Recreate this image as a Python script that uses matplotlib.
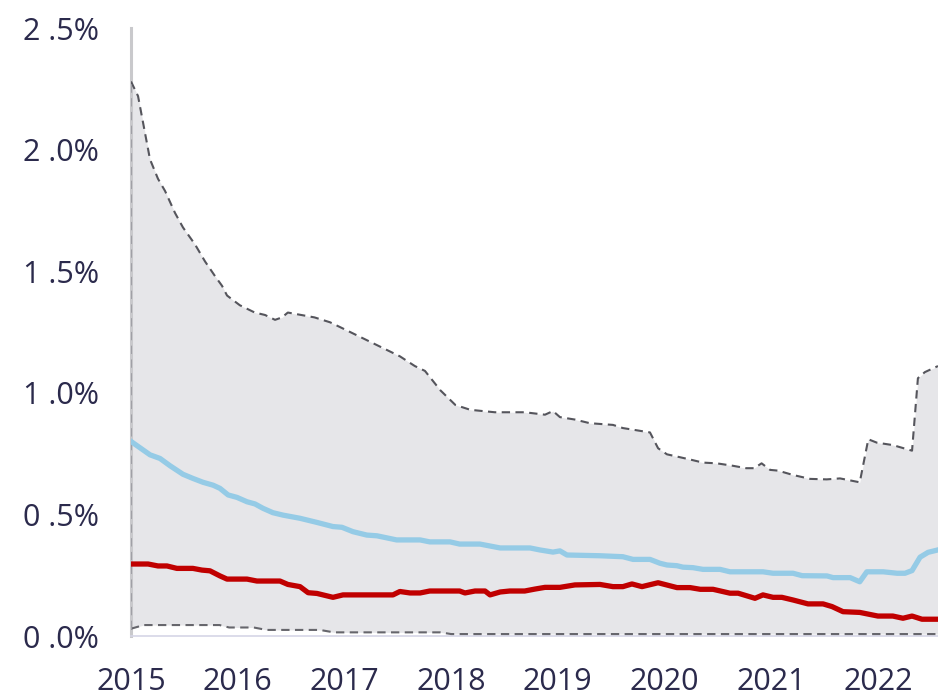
import matplotlib
matplotlib.use("Agg")
import matplotlib.pyplot as plt
import numpy as np

# ---- data (values in %) ----
upper_x = [2015.0, 2015.066, 2015.178, 2015.253, 2015.319, 2015.412, 2015.487, 2015.60, 2015.694,
           2015.787, 2015.853, 2015.90, 2016.02, 2016.16, 2016.256, 2016.35, 2016.415, 2016.47,
           2016.72, 2016.865, 2016.96, 2017.10, 2017.24, 2017.38, 2017.52, 2017.66, 2017.755,
           2017.90, 2018.04, 2018.18, 2018.41, 2018.69, 2018.88, 2018.955, 2019.02, 2019.16,
           2019.30, 2019.517, 2019.61, 2019.864, 2019.94, 2020.023, 2020.146, 2020.256, 2020.36,
           2020.49, 2020.64, 2020.765, 2020.84, 2020.91, 2020.99, 2021.064, 2021.205, 2021.365,
           2021.52, 2021.645, 2021.83, 2021.91, 2021.99, 2022.14, 2022.32, 2022.375, 2022.44,
           2022.563]
upper_y = [2.28, 2.22, 1.96, 1.88, 1.83, 1.74, 1.68, 1.61, 1.54,
           1.48, 1.44, 1.40, 1.36, 1.33, 1.32, 1.30, 1.31, 1.33,
           1.31, 1.29, 1.27, 1.24, 1.21, 1.18, 1.15, 1.11, 1.09,
           1.01, 0.95, 0.93, 0.92, 0.92, 0.91, 0.925, 0.90, 0.89,
           0.875, 0.868, 0.855, 0.837, 0.772, 0.747, 0.735, 0.724, 0.713,
           0.71, 0.70, 0.69, 0.69, 0.71, 0.683, 0.68, 0.662, 0.646,
           0.644, 0.648, 0.632, 0.809, 0.795, 0.785, 0.762, 1.06, 1.085,
           1.11]

lower_x = [2015.0, 2015.12, 2015.83, 2015.92, 2016.15, 2016.27, 2016.77, 2016.9, 2017.9, 2018.0, 2022.563]
lower_y = [0.03, 0.045, 0.045, 0.035, 0.035, 0.025, 0.025, 0.015, 0.015, 0.008, 0.008]

blue_x = [2015.0, 2015.178, 2015.272, 2015.366, 2015.487, 2015.58, 2015.675, 2015.77, 2015.834,
          2015.91, 2015.993, 2016.087, 2016.162, 2016.237, 2016.33, 2016.425, 2016.584, 2016.743,
          2016.893, 2016.977, 2017.08, 2017.21, 2017.305, 2017.49, 2017.71, 2017.80, 2017.99,
          2018.08, 2018.27, 2018.365, 2018.46, 2018.74, 2018.83, 2018.955, 2019.02, 2019.086,
          2019.395, 2019.61, 2019.705, 2019.864, 2019.958, 2020.023, 2020.117, 2020.173, 2020.267,
          2020.36, 2020.52, 2020.614, 2020.923, 2021.017, 2021.205, 2021.29, 2021.523, 2021.58,
          2021.74, 2021.83, 2021.896, 2022.05, 2022.18, 2022.254, 2022.32, 2022.395, 2022.47,
          2022.563]
blue_y = [0.80, 0.745, 0.73, 0.70, 0.665, 0.648, 0.632, 0.62, 0.607,
          0.58, 0.57, 0.552, 0.543, 0.525, 0.507, 0.497, 0.484, 0.467,
          0.45, 0.447, 0.429, 0.415, 0.412, 0.395, 0.395, 0.387, 0.387,
          0.378, 0.378, 0.37, 0.362, 0.362, 0.354, 0.345, 0.35, 0.333,
          0.33, 0.326, 0.315, 0.315, 0.299, 0.292, 0.289, 0.283, 0.281,
          0.274, 0.274, 0.264, 0.264, 0.258, 0.258, 0.248, 0.247, 0.24,
          0.24, 0.223, 0.264, 0.264, 0.258, 0.258, 0.269, 0.324, 0.344,
          0.354]

red_x = [2015.0, 2015.16, 2015.253, 2015.337, 2015.43, 2015.58, 2015.665, 2015.74, 2015.834,
         2015.90, 2016.087, 2016.18, 2016.396, 2016.47, 2016.584, 2016.66, 2016.743, 2016.893,
         2016.987, 2017.455, 2017.52, 2017.615, 2017.71, 2017.80, 2018.08, 2018.13, 2018.224,
         2018.318, 2018.365, 2018.46, 2018.55, 2018.69, 2018.786, 2018.88, 2019.02, 2019.16,
         2019.395, 2019.517, 2019.61, 2019.695, 2019.789, 2019.94, 2020.117, 2020.24, 2020.335,
         2020.455, 2020.614, 2020.69, 2020.848, 2020.923, 2021.017, 2021.10, 2021.205, 2021.345,
         2021.486, 2021.57, 2021.673, 2021.83, 2022.0, 2022.14, 2022.235, 2022.32, 2022.413,
         2022.563]
red_y = [0.296, 0.296, 0.288, 0.288, 0.278, 0.278, 0.271, 0.268, 0.247,
         0.234, 0.234, 0.226, 0.226, 0.212, 0.203, 0.178, 0.175, 0.159,
         0.169, 0.169, 0.183, 0.177, 0.177, 0.185, 0.185, 0.177, 0.185,
         0.185, 0.169, 0.181, 0.185, 0.185, 0.193, 0.20, 0.20, 0.21,
         0.212, 0.203, 0.203, 0.214, 0.203, 0.219, 0.199, 0.199, 0.192,
         0.192, 0.176, 0.176, 0.155, 0.169, 0.159, 0.159, 0.148, 0.132,
         0.132, 0.121, 0.10, 0.097, 0.082, 0.082, 0.073, 0.082, 0.069,
         0.069]

x_ticks = [2015, 2016, 2017, 2018, 2019, 2020, 2021, 2022]
x_tick_labels = ["2015", "2016", "2017", "2018", "2019", "2020", "2021", "2022"]
y_ticks = [0.0, 0.5, 1.0, 1.5, 2.0, 2.5]
y_tick_labels = ["0 .0%", "0 .5%", "1 .0%", "1 .5%", "2 .0%", "2 .5%"]

# ---- figure ----
plt.rcParams['font.family'] = ['Open Sans', 'DejaVu Sans']
W, H = 938, 697
fig = plt.figure(figsize=(W / 100, H / 100), dpi=100)
ax = fig.add_axes([131 / W, (H - 636) / H, (W - 131) / W, 608 / H])

text_color = '#2b2a4c'

# shaded band
grid = np.union1d(upper_x, lower_x)
up_i = np.interp(grid, upper_x, upper_y)
lo_i = np.interp(grid, lower_x, lower_y)
ax.fill_between(grid, lo_i, up_i, color='#e6e6e9', lw=0, zorder=1)

dash = (0, (4, 2.6))
ax.plot(upper_x, upper_y, color='#55555c', lw=1.5, ls=dash, zorder=3)
ax.plot(lower_x, lower_y, color='#66666c', lw=1.5, ls=dash, zorder=3)
ax.plot([upper_x[0], upper_x[0]], [lower_y[0], upper_y[0]], color='#a0a0a6', lw=1.5, ls=dash, zorder=3)

ax.plot(blue_x, blue_y, color='#95cbe6', lw=3.8, solid_joinstyle='round', zorder=4)
ax.plot(red_x, red_y, color='#c00000', lw=3.8, solid_joinstyle='round', zorder=5)

ax.set_xlim(2015.0, 2015.0 + (W - 131) / 106.7)
ax.set_ylim(0, 2.5)

ax.set_xticks(x_ticks)
ax.set_xticklabels(x_tick_labels)
ax.set_yticks(y_ticks)
ax.set_yticklabels(y_tick_labels)
ax.tick_params(axis='both', length=0, labelsize=22, colors=text_color)
ax.tick_params(axis='y', pad=23)
ax.tick_params(axis='x', pad=22)

for s in ['top', 'right']:
    ax.spines[s].set_visible(False)
ax.spines['left'].set_color('#c9c9cc')
ax.spines['left'].set_linewidth(2.2)
ax.spines['bottom'].set_color('#d6d6e6')
ax.spines['bottom'].set_linewidth(1.2)
ax.patch.set_alpha(0)

fig.savefig('out.png', dpi=100)
